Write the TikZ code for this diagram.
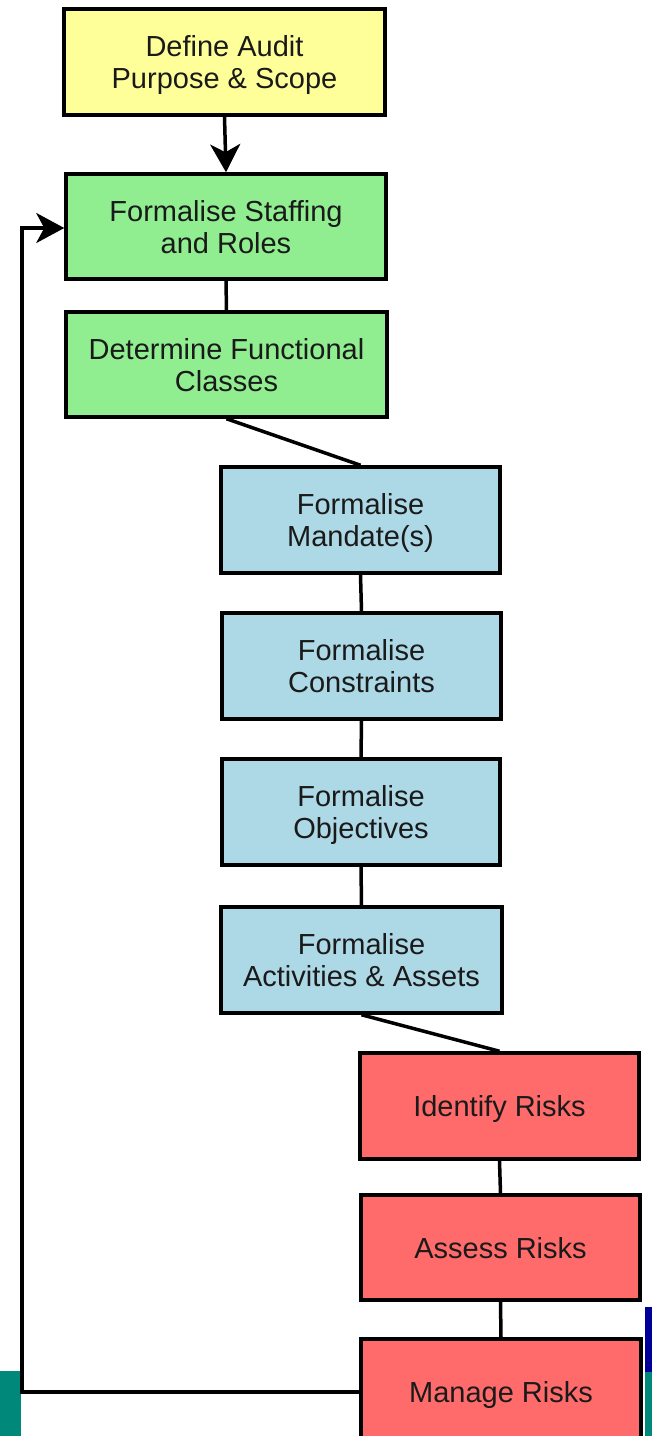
\documentclass[tikz,border=0pt]{standalone}
\usepackage{fontspec}
\setmainfont{Liberation Sans}
\usetikzlibrary{arrows.meta}
\definecolor{cyellow}{HTML}{FFFF99}
\definecolor{cgreen}{HTML}{90EE90}
\definecolor{cblue}{HTML}{ADD8E6}
\definecolor{cred}{HTML}{FF6B6B}
\definecolor{cteal}{HTML}{00897B}
\definecolor{cnavy}{HTML}{000099}
\definecolor{ctext}{HTML}{1A1A1A}
\tikzset{
  stepbox/.style={draw=black, line width=3.5pt, rectangle, align=center, inner sep=0pt,
    text=ctext, font=\fontsize{29}{32}\selectfont, text depth=0pt},
  link/.style={draw=black, line width=3.5pt},
  arrowlink/.style={link, -{Stealth[length=28pt,width=30pt,inset=8pt]}}
}
\begin{document}
\begin{tikzpicture}[x=1pt,y=-1pt]
\useasboundingbox (0,0) rectangle (652,1436);
\clip (0,0) rectangle (652,1436);
% background fragments
\fill[cteal] (0,1371) rectangle (21,1436);
\fill[cnavy] (645,1307) rectangle (652,1372);
\fill[cteal] (645,1372) rectangle (652,1436);
% boxes
\node[stepbox, fill=cyellow, minimum width=321pt, minimum height=106pt] (y) at (224.5,62) {Define Audit\\Purpose \& Scope};
\node[stepbox, fill=cgreen, minimum width=320pt, minimum height=105pt] (g1) at (226,226.5) {Formalise Staffing\\and Roles};
\node[stepbox, fill=cgreen, minimum width=321pt, minimum height=105pt] (g2) at (226.5,364.5) {Determine Functional\\Classes};
\node[stepbox, fill=cblue, minimum width=279pt, minimum height=106pt] (b1) at (360.5,520) {Formalise\\Mandate(s)};
\node[stepbox, fill=cblue, minimum width=279pt, minimum height=106pt] (b2) at (361.5,666) {Formalise\\Constraints};
\node[stepbox, fill=cblue, minimum width=278pt, minimum height=106pt] (b3) at (361,812) {Formalise\\Objectives};
\node[stepbox, fill=cblue, minimum width=281pt, minimum height=106pt] (b4) at (361.5,960) {Formalise\\Activities \& Assets};
\node[stepbox, fill=cred, minimum width=279pt, minimum height=106pt] (r1) at (499.5,1106) {Identify Risks};
\node[stepbox, fill=cred, minimum width=279pt, minimum height=105pt] (r2) at (500.5,1247.5) {Assess Risks};
\node[stepbox, fill=cred, minimum width=280pt, minimum height=106pt] (r3) at (501,1392) {Manage Risks};
% connectors
\draw[arrowlink] (y.south) -- (g1.north);
\draw[link] (g1.south) -- (g2.north);
\draw[link] (g2.south) -- (b1.north);
\draw[link] (b1.south) -- (b2.north);
\draw[link] (b2.south) -- (b3.north);
\draw[link] (b3.south) -- (b4.north);
\draw[link] (b4.south) -- (r1.north);
\draw[link] (r1.south) -- (r2.north);
\draw[link] (r2.south) -- (r3.north);
\coordinate (fb1) at (22,1392);
\coordinate (fb2) at (22,228);
\draw[arrowlink] (r3.west) -- (fb1) -- (fb2) -- (g1.west |- fb2);
\end{tikzpicture}
\end{document}
